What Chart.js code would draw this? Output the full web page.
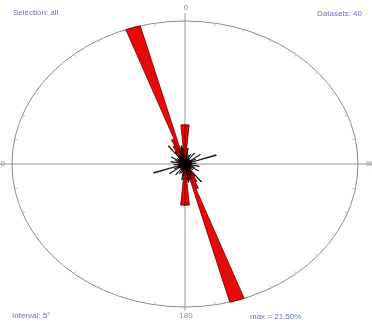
<!DOCTYPE html>
<html>
<head>
<meta charset="utf-8">
<script src="https://cdn.jsdelivr.net/npm/chart.js@4/dist/chart.umd.min.js"></script>
<style>
  html, body { margin: 0; padding: 0; background: #fff; overflow: hidden; }
  #wrap { width: 372px; height: 325px; position: relative; }
</style>
</head>
<body>
<div id="wrap"><canvas id="rose" width="372" height="325"></canvas></div>
<script>
// Rose diagram of axial orientations, 5° classes, bidirectional (each class mirrored at +180°).
const classWidth = 5;                // degrees per class
const maxPercent = 21.5;             // outer ring = largest class
const directionLabels = ['0', '90', '180', '270'];
const headerLeft = 'Selection: all';
const headerRight = 'Datasets: 40';
const footerLeft = 'Interval: 5°';
const footerRight = 'max = 21.50%';

// Class frequencies in %, classes 0-5°, 5-10°, ... 355-360°
const roseValues = [
  5.9, 1.8, 0.8, 0.6, 0.8, 0.7, 0.9, 0.6, 0.8, 0.7, 0.9, 1.0,
  0.8, 0.7, 0.6, 0.9, 0.7, 0.8, 0.8, 0.6, 0.7, 0.8, 0.6, 0.7,
  0.8, 0.7, 0.9, 1.0, 1.2, 2.2, 3.0, 4.0, 21.5, 2.5, 2.4, 6.2,
  6.2, 1.8, 0.8, 0.6, 0.8, 0.7, 0.9, 0.6, 0.8, 0.7, 0.9, 1.0,
  0.8, 0.7, 0.6, 0.9, 0.7, 0.8, 0.8, 0.6, 0.7, 0.8, 0.6, 0.7,
  0.8, 0.7, 0.9, 1.0, 1.2, 2.2, 3.0, 4.0, 21.5, 2.5, 2.4, 5.9
];

// Single measurements drawn as thin black spikes (2° sectors): start angle and length in %
const spikeWidth = 2;
const spikeAngles = [70, 250, 52, 232, 322, 142, 34, 214, 100, 280, 120, 300, 8, 188, 350, 170, 160, 340, 84, 264, 24, 204, 130, 310, 60, 240, 16, 196, 112, 292, 150, 330];
const spikeValues = [4.1, 4.1, 2.4, 2.4, 3.4, 3.4, 2.0, 2.0, 1.8, 1.8, 2.0, 2.0, 2.4, 2.4, 2.8, 2.8, 2.2, 2.2, 1.4, 1.4, 1.6, 1.6, 1.3, 1.3, 1.5, 1.5, 1.4, 1.4, 1.3, 1.3, 1.6, 1.6];

const classLabels = roseValues.map((_, i) => (i * classWidth) + '–' + ((i + 1) * classWidth) + '°');
const spikeData = new Array(360 / spikeWidth).fill(0);
spikeAngles.forEach((a, i) => { spikeData[Math.floor(a / spikeWidth)] = spikeValues[i]; });

// The frame of the plot is an ellipse: wider than tall
const STRETCH_X = 173 / 143;

const frame = {
  id: 'roseFrame',
  beforeDatasetsDraw(chart) {
    const r = chart.scales.r;
    const ctx = chart.ctx;
    const cx = r.xCenter, cy = r.yCenter;
    const ry = r.drawingArea, rx = ry * STRETCH_X;
    ctx.save();
    // cross hairs
    ctx.strokeStyle = '#b8b8b8';
    ctx.lineWidth = 1.4;
    ctx.beginPath();
    ctx.moveTo(cx, 13); ctx.lineTo(cx, 311);
    ctx.moveTo(0, cy); ctx.lineTo(chart.width, cy);
    ctx.stroke();
    // outer ellipse
    ctx.strokeStyle = '#8a8a8a';
    ctx.lineWidth = 1;
    ctx.beginPath();
    ctx.ellipse(cx, cy, rx, ry, 0, 0, Math.PI * 2);
    ctx.stroke();
    // 10° tick marks
    ctx.strokeStyle = '#c2c2c2';
    ctx.beginPath();
    for (let a = 0; a < 360; a += 10) {
      if (a % 90 === 0) continue;
      const t = a * Math.PI / 180;
      const s = Math.sin(t), c = Math.cos(t);
      ctx.moveTo(cx + rx * s, cy - ry * c);
      ctx.lineTo(cx + (rx - 3) * s, cy - (ry - 3) * c);
    }
    ctx.stroke();
    ctx.restore();
    // petals are drawn horizontally stretched to fit the ellipse
    ctx.save();
    ctx.translate(cx, cy);
    ctx.scale(STRETCH_X, 1);
    ctx.translate(-cx, -cy);
  },
  afterDatasetsDraw(chart) {
    chart.ctx.restore();
  },
  afterDraw(chart) {
    const r = chart.scales.r;
    const ctx = chart.ctx;
    const cx = r.xCenter, cy = r.yCenter;
    ctx.save();
    ctx.font = '8px "Liberation Sans", Arial, sans-serif';
    ctx.textBaseline = 'middle';
    ctx.fillStyle = '#6b73c4';
    ctx.textAlign = 'left';
    ctx.fillText(headerLeft, 13, 13);
    ctx.fillText(footerLeft, 12, 316);
    ctx.fillText(footerRight, 250, 317);
    ctx.textAlign = 'right';
    ctx.fillText(headerRight, 362, 14);
    ctx.fillStyle = '#8a8a9a';
    ctx.textAlign = 'center';
    ctx.fillText(directionLabels[0], cx + 1, 8);
    ctx.fillText(directionLabels[2], cx + 1, 316);
    ctx.fillStyle = '#8a8fd0';
    ctx.textAlign = 'left';
    ctx.fillText(directionLabels[1], 366, cy);
    ctx.textAlign = 'right';
    ctx.fillText(directionLabels[3], 5, cy);
    ctx.restore();
  }
};

new Chart(document.getElementById('rose'), {
  type: 'polarArea',
  data: {
    labels: classLabels,
    datasets: [
      {
        label: 'single measurements',
        data: spikeData,
        backgroundColor: '#141010',
        borderColor: '#000000',
        borderWidth: 0.6
      },
      {
        label: 'class frequency',
        data: roseValues,
        backgroundColor: '#e80a0a',
        borderColor: '#800000',
        borderWidth: 0.8
      }
    ]
  },
  options: {
    responsive: false,
    animation: false,
    events: [],
    layout: { padding: { top: 21, bottom: 18, left: 0, right: 2 } },
    plugins: { legend: { display: false }, tooltip: { enabled: false } },
    scales: {
      r: {
        min: 0,
        max: maxPercent,
        startAngle: 0,
        ticks: { display: false },
        grid: { display: false },
        angleLines: { display: false },
        pointLabels: { display: false }
      }
    }
  },
  plugins: [frame]
});
</script>
</body>
</html>
